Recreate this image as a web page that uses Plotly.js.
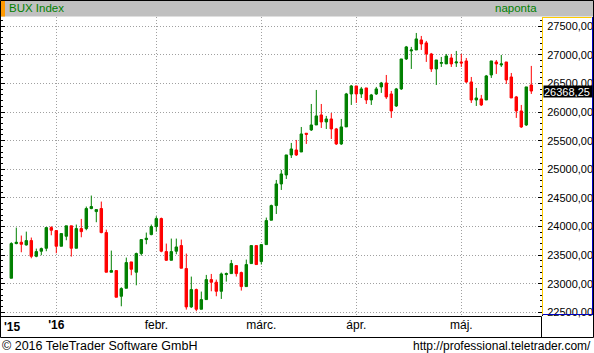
<!DOCTYPE html>
<html>
<head>
<meta charset="utf-8">
<script src="https://cdn.plot.ly/plotly-3.0.1.min.js"></script>
<style>html,body{margin:0;padding:0;background:#fff}#chart{width:594px;height:353px}</style>
</head>
<body>
<div id="chart"></div>
<script>
// ---- DATA ----
var dates = [
 '2015-12-16','2015-12-17','2015-12-18','2015-12-21','2015-12-22','2015-12-23','2015-12-28','2015-12-29','2015-12-30',
 '2016-01-04','2016-01-05','2016-01-06','2016-01-07','2016-01-08','2016-01-11','2016-01-12','2016-01-13','2016-01-14','2016-01-15',
 '2016-01-18','2016-01-19','2016-01-20','2016-01-21','2016-01-22','2016-01-25','2016-01-26','2016-01-27','2016-01-28','2016-01-29',
 '2016-02-01','2016-02-02','2016-02-03','2016-02-04','2016-02-05','2016-02-08','2016-02-09','2016-02-10','2016-02-11','2016-02-12',
 '2016-02-15','2016-02-16','2016-02-17','2016-02-18','2016-02-19','2016-02-22','2016-02-23','2016-02-24','2016-02-25','2016-02-26','2016-02-29',
 '2016-03-01','2016-03-02','2016-03-03','2016-03-04','2016-03-07','2016-03-08','2016-03-09','2016-03-10','2016-03-11',
 '2016-03-16','2016-03-17','2016-03-18','2016-03-21','2016-03-22','2016-03-23','2016-03-24','2016-03-29','2016-03-30','2016-03-31',
 '2016-04-01','2016-04-04','2016-04-05','2016-04-06','2016-04-07','2016-04-08','2016-04-11','2016-04-12','2016-04-13','2016-04-14','2016-04-15',
 '2016-04-18','2016-04-19','2016-04-20','2016-04-21','2016-04-22','2016-04-25','2016-04-26','2016-04-27','2016-04-28','2016-04-29',
 '2016-05-02','2016-05-03','2016-05-04','2016-05-05','2016-05-06','2016-05-09','2016-05-10','2016-05-11','2016-05-12','2016-05-13',
 '2016-05-17','2016-05-18','2016-05-19','2016-05-20','2016-05-23'
];
var openV = [
 23096,23702,23725,23678,23754,23480,23568,23620,23981,
 23929,23655,23830,24012,23620,23964,23964,24314,24261,24314,
 23894,23201,23230,22781,22921,23381,23201,23527,23772,23859,
 23999,24139,23562,23410,23568,23667,23265,22595,22898,22554,
 22723,23072,23026,22868,23160,23177,23317,23195,22950,23352,23667,
 23387,23684,24110,24366,24744,24901,25251,25338,25303,
 25630,25688,25775,25950,25828,25880,25706,25443,25741,26317,
 26457,26317,26422,26212,26317,26440,26509,26317,26107,26405,26929,
 27069,27086,27261,27209,27016,26754,26853,26842,26946,26859,
 26876,26894,26527,26212,26230,26212,26649,26876,26824,26876,
 26614,26265,26020,25775,26474
];
var highV = [
 23725,23981,23842,23911,23807,23614,23632,23981,24005,
 23929,23877,24012,24012,24034,24133,24349,24541,24296,24436,
 23946,23579,23230,22938,23457,23381,23544,23772,23894,24034,
 24180,24156,23702,23789,23789,23772,23527,23125,22915,22863,
 23154,23171,23072,23195,23195,23416,23317,23212,23422,23667,23667,
 23684,24156,24383,24814,24989,25251,25461,25513,25740,
 25630,26142,26387,26142,25933,25985,25723,25880,26335,26474,
 26457,26440,26422,26317,26440,26527,26649,26370,26422,26929,27156,
 27139,27383,27331,27244,27034,26911,26964,27016,27016,27069,
 27016,26946,26614,26422,26300,26649,26894,26911,26999,26876,
 26684,26282,26125,26440,26807
];
var lowV = [
 23096,23690,23550,23667,23445,23463,23498,23568,23847,
 23533,23655,23760,23474,23620,23812,23935,24302,24075,23882,
 23201,23201,22764,22606,22921,23148,22973,23492,23690,23847,
 23911,23550,23399,23410,23515,23271,22548,22577,22519,22554,
 22723,22868,22781,22734,23037,23177,23125,22880,22950,23352,23335,
 23335,23684,24110,24219,24639,24831,25198,25233,25303,
 25443,25670,25775,25723,25705,25530,25426,25426,25741,26125,
 26160,26247,26142,26125,26300,26335,26230,25898,26090,26387,26911,
 26754,27086,27086,26877,26702,26474,26789,26842,26789,26789,
 26789,26509,26160,26107,26107,26212,26597,26667,26789,26492,
 26247,25898,25723,25758,26317
];
var closeV = [
 23702,23725,23690,23754,23480,23562,23614,23981,23935,
 23655,23877,24012,23620,23964,23911,24314,24349,24296,23894,
 23201,23230,22764,22915,23370,23253,23527,23772,23795,23999,
 24139,23568,23410,23562,23643,23271,22595,22898,22554,22723,
 23072,23026,22868,23171,23177,23352,23177,22950,23335,23667,23335,
 23684,24104,24366,24744,24919,25251,25356,25251,25618,
 25612,25775,25933,25828,25880,25706,25443,25741,26317,26457,
 26317,26405,26212,26300,26405,26509,26265,26020,26405,26929,27139,
 27086,27279,27191,27016,26754,26911,26865,26981,26842,26876,
 26859,26527,26212,26247,26125,26632,26894,26842,26842,26562,
 26247,26020,25740,26440,26368.25
];
var monthTickDates = ['2016-01-04','2016-02-01','2016-03-01','2016-04-01','2016-05-02'];
var monthTickText = ["<b>'16</b>", 'febr.', 'márc.', 'ápr.', 'máj.'];
var yTickVals = [22500,23000,23500,24000,24500,25000,25500,26000,26500,27000,27500];
var yTickText = ['22500,00','23000,00','23500,00','24000,00','24500,00','25000,00','25500,00','26000,00','26500,00','27000,00','27500,00'];
var lastLabel = '26368,25';
var titleText = 'BUX Index';
var periodText = 'naponta';
var footerLeft = '© 2016 TeleTrader Software GmbH';
var footerRight = 'http://professional.teletrader.com/';

// ---- LAYOUT HELPERS (pixel -> paper) ----
var L = 1, R = 52, T = 17, B = 37, W = 594, H = 353;
var pw = W - L - R, ph = H - T - B;
function px(x){ return (x - L) / pw; }
function py(y){ return (H - B - y) / ph; }

var FONT = 'Liberation Sans, Arial, sans-serif';
var green = '#008000', red = '#ff0000';

var trace = {
  type: 'candlestick',
  x: dates, open: openV, high: highV, low: lowV, close: closeV,
  increasing: {line: {color: green, width: 1}, fillcolor: green},
  decreasing: {line: {color: red, width: 1}, fillcolor: red},
  whiskerwidth: 0,
  hoverinfo: 'none',
  showlegend: false
};

function line(x0,y0,x1,y1,color,w){
  return {type:'line', xref:'paper', yref:'paper', x0:px(x0), y0:py(y0), x1:px(x1), y1:py(y1),
          line:{color:color, width:w||1}, layer:'above'};
}
function rect(x0,y0,x1,y1,fill,lc){
  return {type:'rect', xref:'paper', yref:'paper', x0:px(x0), y0:py(y0), x1:px(x1), y1:py(y1),
          fillcolor:fill, line:{color:lc||fill, width: lc?1:0}, layer:'above'};
}

var shapes = [
  rect(0, 0, 594, 16.5, '#c0c0c0'),
  rect(0.5, 0.5, 5, 16.5, '#ff9900'),
  line(0.5, 0.5, 593.5, 0.5, '#000'),
  line(0.5, 0.5, 0.5, 337.5, '#000'),
  line(593.5, 0.5, 593.5, 337.5, '#000'),
  line(0.5, 337.5, 593.5, 337.5, '#000'),
  line(0.5, 316.5, 541.5, 316.5, '#000'),
  line(541.5, 316.5, 541.5, 337.5, '#000'),
  line(542.5, 17, 542.5, 315, '#ffcc00'),
  line(542.5, 17.5, 591.5, 17.5, '#ffcc00'),
  line(592.5, 17, 592.5, 315, '#0000c0'),
  line(542.5, 314.5, 592.5, 314.5, '#0000c0')
];

var annotations = [
  {xref:'paper', yref:'paper', x:px(7), y:py(8.5), xanchor:'left', yanchor:'middle', text:titleText, showarrow:false,
   font:{family:FONT, size:11.5, color:green}},
  {xref:'paper', yref:'paper', x:px(539), y:py(8.5), xanchor:'right', yanchor:'middle', text:periodText, showarrow:false,
   font:{family:FONT, size:11.5, color:green}},
  {xref:'paper', yref:'paper', x:px(2), y:py(327), xanchor:'left', yanchor:'middle', text:"<b>'15</b>", showarrow:false,
   font:{family:FONT, size:12, color:'#000'}},
  {xref:'paper', yref:'paper', x:px(0), y:py(345.5), xanchor:'left', yanchor:'middle', text:footerLeft, showarrow:false,
   font:{family:FONT, size:12.5, color:'#000'}},
  {xref:'paper', yref:'paper', x:px(593), y:py(345.5), xanchor:'right', yanchor:'middle', text:footerRight, showarrow:false,
   font:{family:FONT, size:12, color:'#000'}},
  {xref:'paper', yref:'y', x:px(543), y:closeV[closeV.length-1], xanchor:'left', yanchor:'middle', text:lastLabel,
   showarrow:false, bgcolor:'#000', borderpad:0, width:48, height:11, align:'left',
   font:{family:FONT, size:11, color:'#fff'}}
];

var layout = {
  width: W, height: H,
  margin: {l: L, r: R, t: T, b: B, pad: 0},
  paper_bgcolor: '#fff', plot_bgcolor: '#fff',
  showlegend: false,
  font: {family: FONT, size: 12, color: '#000'},
  xaxis: {
    type: 'category',
    range: [-2.06, 106.14],
    rangeslider: {visible: false},
    tickmode: 'array', tickvals: monthTickDates, ticktext: monthTickText,
    ticks: '', showline: false, zeroline: false,
    showgrid: true, gridcolor: '#a0a0a0', griddash: '1px,2px', gridwidth: 1,
    tickfont: {family: FONT, size: 12, color: '#000'},
    fixedrange: true
  },
  yaxis: {
    side: 'right',
    range: [22436, 27662],
    tickmode: 'array', tickvals: yTickVals, ticktext: yTickText,
    ticks: 'inside', ticklen: 4, tickcolor: '#000', tickwidth: 1,
    mirror: 'ticks', showline: true, linecolor: '#000', linewidth: 1,
    minor: {dtick: 100, ticks: 'inside', ticklen: 2, tickcolor: '#000', showgrid: false},
    showgrid: true, gridcolor: '#a0a0a0', griddash: '1px,2px', gridwidth: 1,
    zeroline: false,
    tickfont: {family: FONT, size: 11, color: '#000'},
    ticklabelstandoff: 2,
    fixedrange: true
  },
  shapes: shapes,
  annotations: annotations
};

Plotly.newPlot('chart', [trace], layout, {displayModeBar: false, staticPlot: true});
</script>
</body>
</html>
